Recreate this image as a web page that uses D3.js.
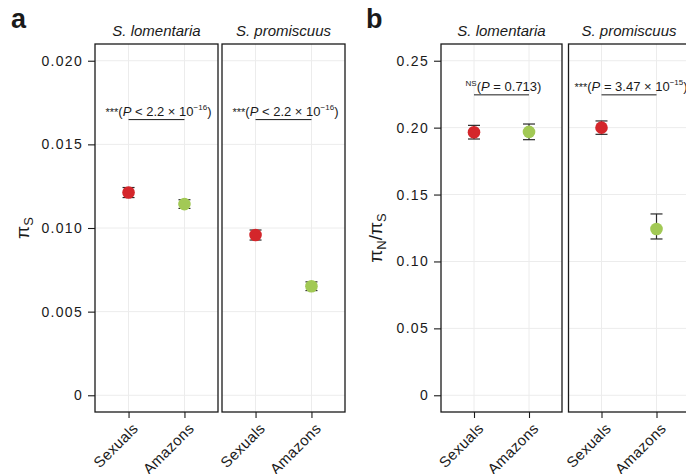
<!DOCTYPE html>
<html lang="en">
<head>
<meta charset="UTF-8" />
<title>piS and piN/piS</title>
<script src="https://d3js.org/d3.v7.min.js"></script>
<style>
  body { margin: 0; background: #fff; font-family: "Liberation Sans", Arial, sans-serif; }
  svg text { font-family: "Liberation Sans", Arial, sans-serif; fill: #1a1a1a; }
  .ytick text { font-size: 14px; letter-spacing: 1.3px; }
  .xlab { font-size: 15px; letter-spacing: 0.3px; }
  .strip { font-size: 15px; font-style: italic; }
  .annot { font-size: 13px; }
  .plab { font-size: 27px; font-weight: bold; }
</style>
</head>
<body>
<svg width="686" height="474"></svg>
<script>
// ---- data ----
const groups = ["Sexuals", "Amazons"];
const species = ["S. lomentaria", "S. promiscuus"];
const groupColors = ["#d4262b", "#a2c955"];

// panel a: pi_S mean and half-width of error bar
const piSLomentaria = [0.01212, 0.01143];
const piSLomentariaErr = [0.0003, 0.00026];
const piSPromiscuus = [0.00958, 0.00652];
const piSPromiscuusErr = [0.0003, 0.00026];
const piSTicks = [0, 0.005, 0.010, 0.015, 0.020];
const piSTickLabels = ["0", "0.005", "0.010", "0.015", "0.020"];

// panel b: piN/piS mean, low and high end of error bar
const ratioLomentaria = [0.1965, 0.1968];
const ratioLomentariaLo = [0.1915, 0.1910];
const ratioLomentariaHi = [0.2017, 0.2027];
const ratioPromiscuus = [0.2000, 0.1243];
const ratioPromiscuusLo = [0.1950, 0.1168];
const ratioPromiscuusHi = [0.2050, 0.1355];
const ratioTicks = [0, 0.05, 0.10, 0.15, 0.20, 0.25];
const ratioTickLabels = ["0", "0.05", "0.10", "0.15", "0.20", "0.25"];

// significance labels: [stars, relation, mantissa, exponent]
const piSTests = [["***", "<", "2.2", "−16"], ["***", "<", "2.2", "−16"]];
const ratioTests = [["NS", "=", "0.713", null], ["***", "=", "3.47", "−15"]];
const piSBracketAt = 0.01648;
const ratioBracketAt = 0.2245;

// ---- drawing ----
const svg = d3.select("svg");
const plotTop = 44, plotBottom = 412;

function facet(cfg) {
  const y = d3.scaleLinear()
    .domain([-0.05 * cfg.yMax, 1.05 * cfg.yMax])
    .range([plotBottom, plotTop]);

  species.forEach((sp, i) => {
    const left = cfg.x0 + i * (cfg.w + cfg.gap);
    const x = d3.scalePoint().domain(groups).range([left, left + cfg.w]).padding(0.6);
    const g = svg.append("g");
    const rows = groups.map((grp, j) => ({
      grp, j, m: cfg.mean[i][j], lo: cfg.lo[i][j], hi: cfg.hi[i][j]
    }));

    // grid
    g.selectAll(".hg").data(cfg.ticks).join("line")
      .attr("x1", left).attr("x2", left + cfg.w)
      .attr("y1", d => y(d)).attr("y2", d => y(d))
      .attr("stroke", "#ececec").attr("stroke-width", 1);
    g.selectAll(".vg").data(groups).join("line")
      .attr("x1", d => x(d)).attr("x2", d => x(d))
      .attr("y1", plotTop).attr("y2", plotBottom)
      .attr("stroke", "#ececec").attr("stroke-width", 1);

    // error bars
    const eb = g.selectAll(".eb").data(rows).join("g")
      .attr("stroke", "#2a2a2a").attr("stroke-width", 1.2);
    eb.append("line")
      .attr("x1", d => x(d.grp)).attr("x2", d => x(d.grp))
      .attr("y1", d => y(d.lo)).attr("y2", d => y(d.hi));
    eb.append("line")
      .attr("x1", d => x(d.grp) - 6).attr("x2", d => x(d.grp) + 6)
      .attr("y1", d => y(d.lo)).attr("y2", d => y(d.lo));
    eb.append("line")
      .attr("x1", d => x(d.grp) - 6).attr("x2", d => x(d.grp) + 6)
      .attr("y1", d => y(d.hi)).attr("y2", d => y(d.hi));

    // points
    g.selectAll(".pt").data(rows).join("circle")
      .attr("cx", d => x(d.grp)).attr("cy", d => y(d.m))
      .attr("r", 6.3)
      .attr("fill", d => groupColors[d.j]);

    // significance bracket + label
    const by = y(cfg.bracketAt);
    g.append("line")
      .attr("x1", x(groups[0])).attr("x2", x(groups[1]))
      .attr("y1", by).attr("y2", by)
      .attr("stroke", "#1a1a1a").attr("stroke-width", 1);
    const t = cfg.tests[i];
    const lab = g.append("text").attr("class", "annot")
      .attr("x", (x(groups[0]) + x(groups[1])) / 2 + 2)
      .attr("y", by - 4)
      .attr("text-anchor", "middle");
    lab.append("tspan").attr("font-size", t[0] === "NS" ? "8px" : "11px")
      .attr("dy", t[0] === "NS" ? -5 : 0).text(t[0]);
    lab.append("tspan").attr("dy", t[0] === "NS" ? 5 : 0).text("(");
    lab.append("tspan").attr("font-style", "italic").text("P");
    lab.append("tspan").text(` ${t[1]} ${t[2]}` + (t[3] ? " × 10" : ""));
    if (t[3]) {
      lab.append("tspan").attr("font-size", "8px").attr("dy", -6).text(t[3]);
      lab.append("tspan").attr("dy", 6).text(")");
    } else {
      lab.append("tspan").text(")");
    }

    // panel border
    g.append("rect")
      .attr("x", left).attr("y", plotTop)
      .attr("width", cfg.w).attr("height", plotBottom - plotTop)
      .attr("fill", "none").attr("stroke", "#1a1a1a").attr("stroke-width", 1.3);

    // strip title
    g.append("text").attr("class", "strip")
      .attr("x", left + cfg.w / 2).attr("y", 36)
      .attr("text-anchor", "middle").text(sp);

    // x axis
    const xa = g.append("g").attr("transform", `translate(0,${plotBottom})`)
      .call(d3.axisBottom(x).tickSize(6).tickFormat(""));
    xa.select(".domain").remove();
    xa.selectAll(".tick line").attr("stroke", "#1a1a1a").attr("stroke-width", 1.1);
    g.selectAll(".xlab").data(groups).join("text")
      .attr("class", "xlab")
      .attr("text-anchor", "end")
      .attr("dy", "0.71em")
      .attr("transform", d => `translate(${x(d) + 3},${plotBottom + 10}) rotate(-45)`)
      .text(d => d);

    // y axis on first facet only
    if (i === 0) {
      const ya = g.append("g").attr("class", "ytick")
        .attr("transform", `translate(${left},0)`)
        .call(d3.axisLeft(y).tickValues(cfg.ticks).tickSize(7).tickPadding(5)
          .tickFormat((d, k) => cfg.tickLabels[k]));
      ya.select(".domain").remove();
      ya.selectAll(".tick line").attr("stroke", "#1a1a1a").attr("stroke-width", 1.1);
      ya.selectAll(".tick text").attr("fill", "#1a1a1a");
    }
  });

  // y title
  const yt = svg.append("text")
    .attr("transform", `translate(${cfg.titleX},${cfg.titleY}) rotate(-90)`)
    .attr("text-anchor", "middle")
    .attr("font-size", "19px");
  cfg.title(yt);

  svg.append("text").attr("class", "plab")
    .attr("x", cfg.letterX).attr("y", 28).text(cfg.letter);
}

facet({
  x0: 95, w: 123, gap: 4, yMax: 0.02,
  ticks: piSTicks, tickLabels: piSTickLabels,
  mean: [piSLomentaria, piSPromiscuus],
  lo: [piSLomentaria.map((v, j) => v - piSLomentariaErr[j]), piSPromiscuus.map((v, j) => v - piSPromiscuusErr[j])],
  hi: [piSLomentaria.map((v, j) => v + piSLomentariaErr[j]), piSPromiscuus.map((v, j) => v + piSPromiscuusErr[j])],
  tests: piSTests, bracketAt: piSBracketAt,
  titleX: 29, titleY: 228,
  title: t => {
    t.append("tspan").text("π");
    t.append("tspan").attr("font-size", "13px").attr("dy", 4).text("S");
  },
  letter: "a", letterX: 11
});

facet({
  x0: 441, w: 121, gap: 6.5, yMax: 0.25,
  ticks: ratioTicks, tickLabels: ratioTickLabels,
  mean: [ratioLomentaria, ratioPromiscuus],
  lo: [ratioLomentariaLo, ratioPromiscuusLo],
  hi: [ratioLomentariaHi, ratioPromiscuusHi],
  tests: ratioTests, bracketAt: ratioBracketAt,
  titleX: 382, titleY: 238,
  title: t => {
    t.append("tspan").text("π");
    t.append("tspan").attr("font-size", "13px").attr("dy", 4).text("N");
    t.append("tspan").attr("dy", -4).text("/π");
    t.append("tspan").attr("font-size", "13px").attr("dy", 4).text("S");
  },
  letter: "b", letterX: 366
});
</script>
</body>
</html>
